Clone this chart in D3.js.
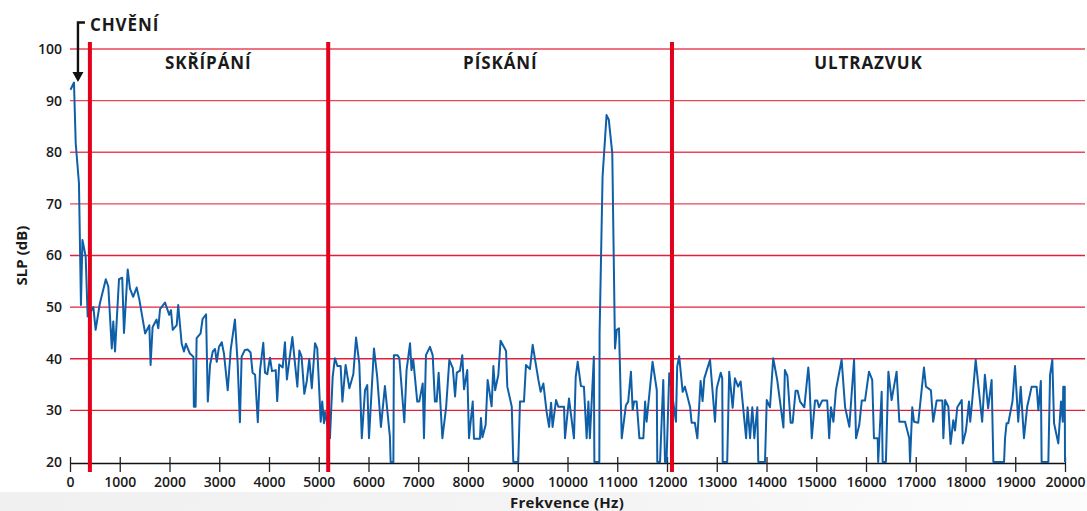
<!DOCTYPE html>
<html><head><meta charset="utf-8">
<script src="https://cdn.jsdelivr.net/npm/d3@7"></script>
<style>
html,body{margin:0;padding:0;background:#fff;}
svg{display:block;font-family:"Open Sans",sans-serif;}
</style></head>
<body><svg id="c" width="1087" height="511"></svg>
<script>
// ---- data ----
const freqHz = [10,80,115,180,220,250,315,355,470,515,600,720,770,840,870,905,985,1050,1085,1160,1205,1270,1340,1395,1510,1595,1620,1660,1740,1775,1810,1910,1995,2030,2065,2145,2175,2245,2290,2330,2410,
2480,2490,2525,2545,2625,2665,2735,2770,2815,2870,2915,2950,2995,3050,3095,3170,3230,3315,3370,3415,3450,3515,3570,3630,3670,3720,3775,3820,3885,3920,3965,4020,4060,4135,4165,4205,4275,4320,4360,4410,4470,4525,4570,4610,4655,4710,4760,4810,4860,4925,4970,5040,5070,5105,5125,
5225,5280,5325,5375,5440,5475,5540,5615,5695,5750,5815,5865,5930,5975,6010,6110,6175,6250,6330,6430,6445,6500,6510,6585,6620,6720,6765,6835,6865,6900,6980,7020,7090,7115,7155,7235,7290,7335,7370,7410,7485,7560,7625,
7695,7740,7775,7840,7885,7920,7985,8020,8095,8120,8240,8260,8290,8355,8395,8475,8510,8545,8610,8655,8765,8790,8880,8910,9010,9045,9125,9165,9245,9300,9415,9460,9515,9580,9630,9670,9700,9770,9815,9930,9950,10030,10130,10165,10205,10270,10330,
10385,10420,10450,10530,10540,10640,10645,10705,10785,10830,10900,10955,10990,11035,11090,11175,11220,11275,11310,11340,11390,11445,11525,11560,11590,11710,11795,11805,11860,11925,11960,11990,12045,12180,12205,12245,
12315,12360,12465,12495,12560,12610,12675,12715,12750,12865,12965,13000,13080,13110,13120,13210,13250,13320,13365,13430,13480,13590,13620,13670,13715,13755,13815,13835,13970,14005,14070,14135,14215,14340,14370,14420,14485,14525,14585,14625,14675,14760,14840,
14860,14910,14975,15020,15055,15120,15220,15260,15295,15345,15395,15510,15580,15665,15760,15800,15865,15915,15980,16060,16125,16160,16235,16245,16315,16335,16400,16450,16515,16615,16670,16785,16870,16885,16930,16965,17050,17165,17205,17305,17350,17420,
17535,17555,17590,17655,17700,17755,17790,17835,17925,17945,18005,18025,18070,18095,18135,18205,18335,18390,18455,18525,18560,18775,18795,18825,18860,18945,18995,19060,19110,19175,19240,19330,19430,19465,19515,19530,19665,19700,19745,19780,19865,19920,19955,19965,19995,20000];
const slpDb = [92.1,93.5,81.7,74,50.4,63,59.8,48.2,50,45.6,50.7,55.4,54,42,47.2,41.4,55.4,55.7,45,57.3,53.6,52,53.8,51.4,44.9,46.5,38.8,46.1,47.6,45.9,49.6,50.9,48.5,49.4,45.6,46.5,50.4,42.9,41.4,42.9,41,
40.4,30.7,30.7,44,44.9,47.7,48.6,31.7,38.8,41.4,41.9,39.4,42.3,43.2,41,33.9,41.7,47.6,39.1,27.7,40.4,41.7,41.8,41.2,37.3,36.9,27.7,37.8,43.1,37.3,37,40.2,37.6,37.8,31.8,38.9,38.3,43.2,36,39.8,44.2,38.8,34.6,41.6,40.4,33.2,35.7,40,34.3,43,42,27.8,31.7,27.5,29.7,
24.6,36.5,40.1,38.6,38.6,31.7,38.8,34.3,37,44.1,39.1,24.6,33.9,34.9,24.6,42,36.5,26.8,34.7,24.9,20,20,40.7,40.7,40.1,27.7,37.8,43,37.8,39.8,31.7,31.7,35.2,24.6,40.7,42.3,40.7,31.7,31.7,37.3,24.6,30.6,39.8,
38.2,32.7,37.3,37.7,40.7,34.1,37.8,24.6,31.7,24.5,24.5,28.5,24.8,27.2,35.9,30.8,38.6,33.9,36.9,43.5,41.5,34.6,30.7,20,20,31.7,31.7,38.8,38,42.7,35.9,33.6,35.2,29.7,26.8,31.5,26.8,32,30.7,30.7,24.6,32.3,24.6,36.5,39.4,34.7,34.6,
24.6,31.7,24.6,40.4,20,20,44.9,75.3,87.2,86.3,79.8,42,45.6,45.9,24.6,31,31.7,37.5,30.1,31.7,31.7,24.6,24.6,31.7,27.8,39.4,33.9,20,20,35.9,20,20,37.2,27.8,38.5,40.5,
33.6,34.6,30.6,27.6,27.6,24.6,35.7,31.8,36.2,39.8,27.8,34.3,37.3,36.2,20,20,37.5,30.5,36.2,34.6,35.6,24.6,30.6,24.6,30.6,24.6,30.6,20,20,32,30.6,40.1,35.9,26.7,37.8,36.7,27.6,27.6,33.8,33.8,31.7,30.6,38.3,
35.9,24.6,31.9,31.9,30.6,31.9,31.9,24.6,30.6,27.8,33.9,39.8,30.6,26.8,39.8,24.6,27.2,31.9,31.9,37.5,35.9,24.6,24.6,20,33.6,20,20,37.5,32,37.5,27.8,27.8,24.6,20,30.6,27.8,27.6,38.3,34.6,33.9,27.8,31.9,
31.9,24.6,32,30.7,23.5,28.1,26.1,30.6,32,23.6,25.9,27.5,31.7,27.8,31.9,39.8,27.8,36.9,30.4,35.9,20,20,24.6,27.5,27.5,31.8,38.6,27.8,34.6,24.6,30.7,34.6,34.6,30,35.7,20,20,36.9,39.8,27.5,23.6,31.7,27.8,34.6,34.6,20];
const yTicks = [20,30,40,50,60,70,80,90,100];
const gridValues = [30,40,50,60,70,80,90,100];
const xTicks = d3.range(0,20001,1000);
const boundariesHz = [400,5190,12100];
const zoneLabels = ["SKŘÍPÁNÍ","PÍSKÁNÍ","ULTRAZVUK"];
const zoneCentersHz = [2780,8650,16050];
const annotationText = "CHVĚNÍ";

// ---- scales ----
const svg = d3.select("#c");
const x = d3.scaleLinear().domain([0,20000]).range([70,1065]);
const y = d3.scaleLinear().domain([20,100]).range([462,49]);

// bottom light band
const defs = svg.append("defs");
const g1 = defs.append("linearGradient").attr("id","band").attr("x1","0").attr("x2","1").attr("y1","0").attr("y2","0");
g1.append("stop").attr("offset","0").attr("stop-color","#f0f0f0");
g1.append("stop").attr("offset","0.55").attr("stop-color","#f4f4f4");
g1.append("stop").attr("offset","1").attr("stop-color","#fcfcfc");
svg.append("rect").attr("x",0).attr("y",492).attr("width",1087).attr("height",19).attr("fill","url(#band)");

// grid
svg.append("g").selectAll("line").data(gridValues).join("line")
  .attr("x1",x(0)).attr("x2",1085)
  .attr("y1",d=>y(d)).attr("y2",d=>y(d))
  .attr("stroke",d=>d>=70?"#e8465a":"#e3203a").attr("stroke-width",1.3);

// y tick labels
svg.append("g").selectAll("text").data(yTicks).join("text")
  .attr("x",62).attr("y",d=>y(d)).attr("dy","0.35em")
  .attr("text-anchor","end").attr("font-size",14).attr("font-weight",600).attr("fill","#1a1a1a")
  .text(d=>d);

// x axis
const xAxis = d3.axisBottom(x).tickValues(xTicks).tickSize(0).tickFormat(d3.format("d"));
const ax = svg.append("g").attr("transform",`translate(0,${y(20)+1})`).call(xAxis);
ax.select(".domain").attr("stroke","#111").attr("stroke-width",1.5);
ax.selectAll(".tick line").remove();
ax.selectAll(".tick").append("line").attr("y1",-6).attr("y2",9).attr("stroke","#222").attr("stroke-width",1.3);
ax.selectAll(".tick text").attr("y",19).attr("dy","0.35em").attr("font-size",14).attr("font-weight",600)
  .attr("fill","#1a1a1a").attr("font-family","Open Sans");

// data line
const line = d3.line().x((d,i)=>x(freqHz[i])).y(d=>y(Math.max(20,d)));
svg.append("path").datum(slpDb).attr("d",line)
  .attr("fill","none").attr("stroke","#0f5fa8").attr("stroke-width",2).attr("stroke-linejoin","round");

// boundaries
svg.append("g").selectAll("line").data(boundariesHz).join("line")
  .attr("x1",d=>x(d)).attr("x2",d=>x(d)).attr("y1",42).attr("y2",472)
  .attr("stroke","#e2001a").attr("stroke-width",4);

// zone labels
svg.append("g").selectAll("text").data(zoneLabels).join("text")
  .attr("x",(d,i)=>x(zoneCentersHz[i])).attr("y",69)
  .attr("text-anchor","middle").attr("font-size",17).attr("font-weight",700).attr("fill","#1a1a1a")
  .attr("letter-spacing",0.9)
  .text(d=>d);

// annotation arrow
const ax0 = x(160);
svg.append("path").attr("d",`M${ax0+7},22.5H${ax0}V73`).attr("fill","none").attr("stroke","#111").attr("stroke-width",2.4);
svg.append("path").attr("d",`M${ax0-5.5},72L${ax0+5.5},72L${ax0},82Z`).attr("fill","#111");
svg.append("text").attr("x",ax0+12).attr("y",31).attr("font-size",17).attr("font-weight",700).attr("fill","#1a1a1a")
  .attr("letter-spacing",0.9).text(annotationText);

// axis titles
svg.append("text").attr("transform",`translate(27,${(y(20)+y(100))/2}) rotate(-90)`)
  .attr("text-anchor","middle").attr("font-size",15).attr("font-weight",700).attr("fill","#1a1a1a").text("SLP (dB)");
svg.append("text").attr("x",567).attr("y",508).attr("text-anchor","middle")
  .attr("font-size",15).attr("font-weight",700).attr("fill","#1a1a1a").attr("letter-spacing",0.3).text("Frekvence (Hz)");
</script></body></html>
